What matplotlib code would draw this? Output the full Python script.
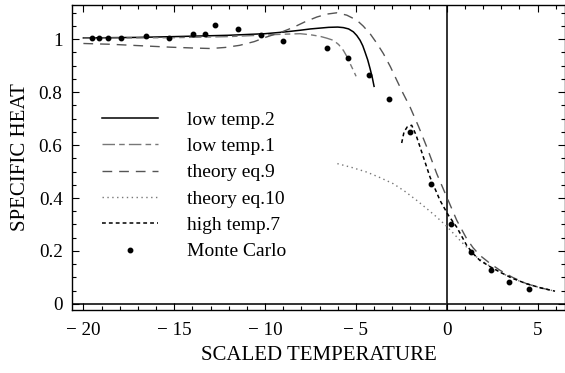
import numpy as np
import matplotlib
matplotlib.use('Agg')
import matplotlib.pyplot as plt
from matplotlib.ticker import MultipleLocator

plt.rcParams['font.family'] = ['Liberation Serif', 'DejaVu Serif']

# Monte Carlo points
mc_x = [-19.54, -19.12, -18.66, -17.91, -16.55, -15.30, -13.98, -13.30, -12.75, -11.50,
        -10.24, -8.99, -6.57, -5.41, -4.26, -3.16, -2.02, -0.86, 0.24, 1.32, 2.44, 3.45, 4.55]
mc_y = [1.006, 1.006, 1.006, 1.006, 1.011, 1.003, 1.018, 1.020, 1.053, 1.040,
        1.015, 0.992, 0.967, 0.929, 0.866, 0.774, 0.650, 0.454, 0.303, 0.196, 0.129, 0.081, 0.057]

# low temp.2 (solid)
lt2_x = [-20.0, -17.0, -15.0, -12.0, -10.0, -9.0, -8.07, -7.5, -7.0, -6.5, -6.0, -5.69, -5.4,
         -5.14, -4.95, -4.77, -4.62, -4.50, -4.35, -4.22, -4.10, -4.00]
lt2_y = [1.005, 1.007, 1.010, 1.015, 1.021, 1.027, 1.034, 1.039, 1.042, 1.045, 1.046, 1.044, 1.039,
         1.028, 1.014, 0.996, 0.975, 0.952, 0.922, 0.889, 0.856, 0.822]

# low temp.1
lt1_x = [-20.0, -15.0, -12.0, -10.0, -9.0, -8.07, -7.5, -6.97, -6.6, -6.24, -5.95, -5.69, -5.5,
         -5.32, -5.15, -4.99]
lt1_y = [1.004, 1.006, 1.010, 1.016, 1.019, 1.021, 1.017, 1.011, 1.004, 0.996, 0.980, 0.958, 0.935,
         0.908, 0.884, 0.860]

# theory eq.9
t9_x = [-20.0, -18.5, -17.0, -15.2, -14.0, -13.0, -12.2, -11.4, -10.6, -9.9, -9.1, -8.44, -7.8,
        -7.15, -6.6, -6.05, -5.5, -4.95, -4.6, -4.22, -3.85, -3.49, -3.1, -2.75, -2.4, -2.02,
        -1.55, -1.10, -0.55, 0.0, 0.55, 1.10, 1.45, 1.83, 2.4, 2.93, 3.6, 4.40, 5.2, 5.96]
t9_y = [0.984, 0.981, 0.976, 0.970, 0.967, 0.965, 0.969, 0.977, 0.991, 1.009, 1.027, 1.045, 1.066,
        1.084, 1.095, 1.100, 1.091, 1.072, 1.050, 1.021, 0.985, 0.946, 0.896, 0.845, 0.795, 0.744,
        0.670, 0.593, 0.492, 0.404, 0.316, 0.246, 0.212, 0.183, 0.152, 0.127, 0.101, 0.076, 0.060, 0.048]

# theory eq.10
t10_x = [-6.02, -5.2, -4.40, -3.7, -2.94, -2.3, -1.65, -1.1, -0.55, 0.0, 0.73, 1.2, 1.65, 2.3,
         2.93, 3.6, 4.40, 5.2, 5.96]
t10_y = [0.530, 0.515, 0.498, 0.478, 0.454, 0.425, 0.391, 0.360, 0.328, 0.293, 0.240, 0.207, 0.177,
         0.146, 0.120, 0.097, 0.076, 0.060, 0.048]

# high temp.7
ht7_x = [-2.48, -2.35, -2.17, -1.93, -1.7, -1.47, -0.92, -0.37, 0.09, 0.55, 1.10, 1.45, 1.83,
         2.4, 2.93, 3.6, 4.40, 5.2, 5.96]
ht7_y = [0.608, 0.650, 0.669, 0.675, 0.640, 0.593, 0.479, 0.391, 0.335, 0.290, 0.221, 0.190, 0.164,
         0.140, 0.120, 0.097, 0.076, 0.060, 0.048]

xticks = [-20, -15, -10, -5, 0, 5]
xtick_labels = ['\u2212 20', '\u2212 15', '\u2212 10', '\u2212 5', '0', '5']
yticks = [0, 0.2, 0.4, 0.6, 0.8, 1]
ytick_labels = ['0', '0.2', '0.4', '0.6', '0.8', '1']

fig = plt.figure(figsize=(5.65, 3.73), dpi=100)
ax = fig.add_axes([0.128, 0.169, 0.872, 0.818])

ax.axvline(0, color='#222222', lw=1.3, zorder=1)
ax.axhline(0, color='#222222', lw=1.3, zorder=1)

ax.plot(lt2_x, lt2_y, color='black', lw=1.1, label='low temp.2')
ax.plot(lt1_x, lt1_y, color='#777777', lw=1.0, dashes=(9, 3, 4, 3), label='low temp.1')
ax.plot(t9_x, t9_y, color='#555555', lw=1.0, dashes=(7, 5), label='theory eq.9')
ax.plot(t10_x, t10_y, color='#777777', lw=1.0, dashes=(1, 2.5), label='theory eq.10')
ax.plot(ht7_x, ht7_y, color='black', lw=1.1, dashes=(2.5, 2), label='high temp.7')
ax.plot(mc_x, mc_y, 'o', color='black', ms=3.2, label='Monte Carlo')

ax.set_xlim(-20.61, 6.51)
ax.set_ylim(-0.023, 1.130)
ax.set_xticks(xticks)
ax.set_xticklabels(xtick_labels)
ax.set_yticks(yticks)
ax.set_yticklabels(ytick_labels)
ax.xaxis.set_minor_locator(MultipleLocator(1))
ax.yaxis.set_minor_locator(MultipleLocator(0.05))
ax.tick_params(which='both', direction='in', top=True, right=True, labelsize=13.8, width=0.8)
ax.tick_params(which='major', length=5)
ax.tick_params(axis='x', which='major', pad=9)
ax.tick_params(axis='y', which='major', pad=7)
ax.tick_params(which='minor', length=3)
for sp in ax.spines.values():
    sp.set_linewidth(1.0)

ax.set_xlabel('SCALED TEMPERATURE', fontsize=15, labelpad=5)
ax.set_ylabel('SPECIFIC HEAT', fontsize=15, labelpad=6)

leg = ax.legend(loc='upper left', bbox_to_anchor=(0.04, 0.684), frameon=False, fontsize=14,
                handlelength=2.9, handletextpad=1.5, labelspacing=0.45, borderpad=0)

fig.savefig('out.png', dpi=100)
